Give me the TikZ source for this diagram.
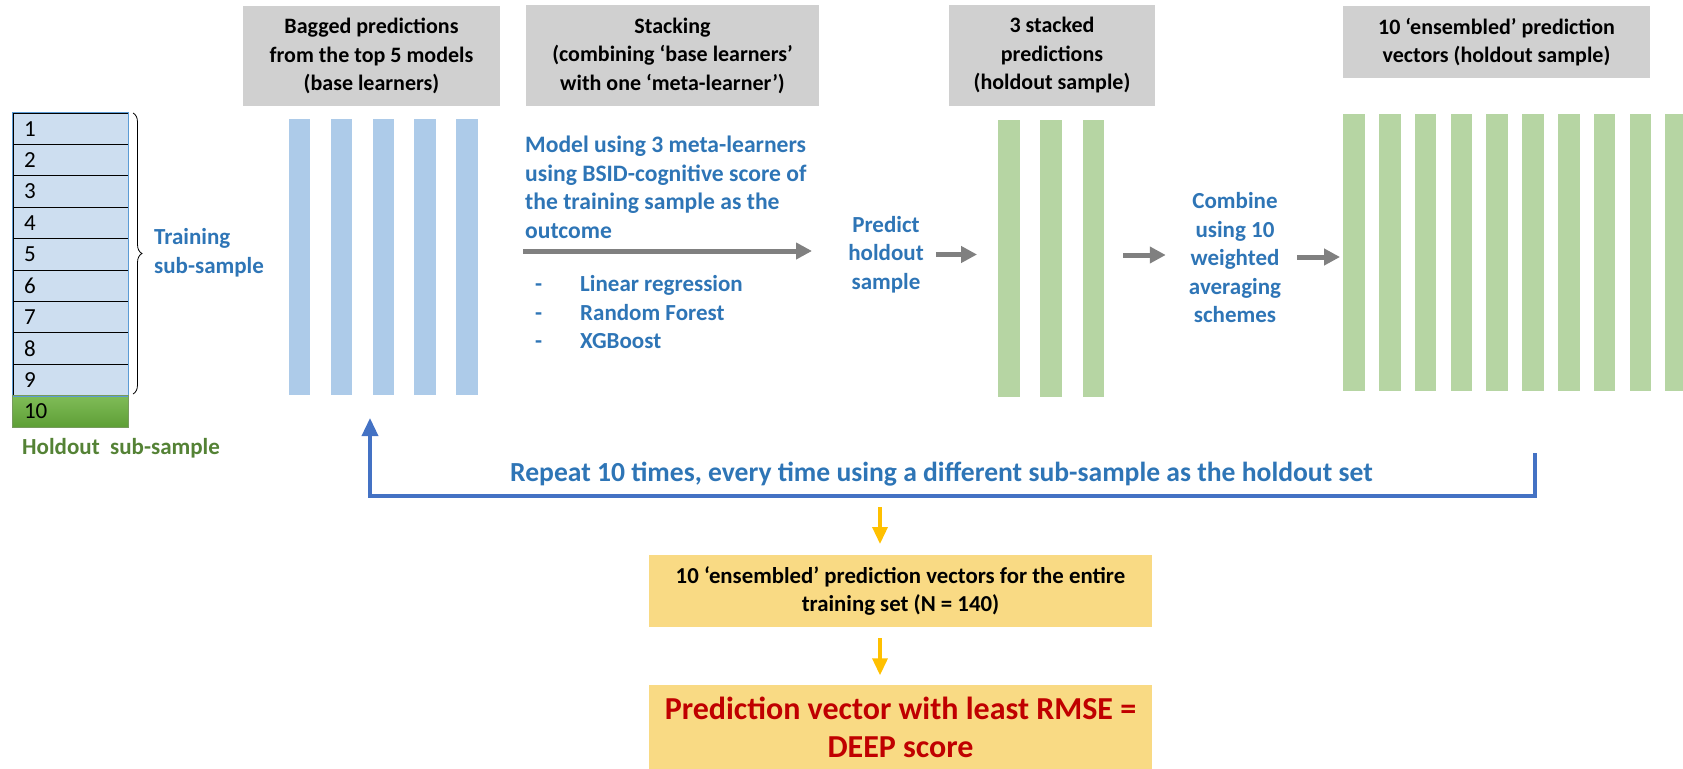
\documentclass[tikz,border=0pt]{standalone}
\usepackage{fontspec}
\setmainfont{Carlito}
\usetikzlibrary{arrows.meta,decorations.pathreplacing}
\definecolor{hdrgray}{HTML}{D0D0D0}
\definecolor{rowblue}{HTML}{CDDEF0}
\definecolor{rowedge}{HTML}{5B9BD5}
\definecolor{barblue}{HTML}{ADCBE9}
\definecolor{bargreen}{HTML}{B6D5A3}
\definecolor{boxyellow}{HTML}{F9DA84}
\definecolor{txtblue}{HTML}{2E75B6}
\definecolor{loopblue}{HTML}{4472C4}
\definecolor{holdgreen}{HTML}{548235}
\definecolor{arrgray}{HTML}{808080}
\definecolor{arryellow}{HTML}{FFC000}
\definecolor{deepred}{HTML}{C00000}
\definecolor{rowgreentop}{HTML}{80BC58}
\definecolor{rowgreenbot}{HTML}{5E9F36}
\begin{document}
\begin{tikzpicture}[x=1pt,y=-1pt,
  hdr/.style={fill=hdrgray, align=center, inner sep=0pt, font=\bfseries\fontsize{22}{28.5}\selectfont},
  bluebar/.style={fill=barblue, inner sep=0pt, minimum width=21.5pt, minimum height=276pt},
  greenbar/.style={fill=bargreen, inner sep=0pt, minimum width=21.5pt, minimum height=277pt},
  rowbox/.style={draw=black, line width=0.8pt, fill=rowblue, minimum width=115pt, minimum height=31.4pt,
    inner xsep=11pt, inner ysep=0pt, text width=93pt, align=left, font=\fontsize{23}{26}\selectfont},
  bluetxt/.style={text=txtblue, inner sep=0pt, font=\bfseries\fontsize{23}{28.5}\selectfont},
  grayarrow/.style={draw=arrgray, line width=5pt, -{Triangle[length=16pt,width=16pt]}},
  yarrow/.style={draw=arryellow, line width=3.5pt, -{Triangle[length=17pt,width=15pt]}},
  loopline/.style={draw=loopblue, line width=3.5pt, -{Triangle[length=18pt,width=16pt]}},
  ybox/.style={fill=boxyellow, inner sep=0pt, align=center, minimum width=503pt}
]
\useasboundingbox (0,0) rectangle (1683,768);

% headers
\node[hdr, minimum width=257pt, minimum height=100pt] (h1) at (371.5,56) {Bagged predictions\\from the top 5 models\\(base learners)};
\node[hdr, minimum width=293pt, minimum height=101pt] (h2) at (672.5,55.5) {Stacking\\(combining ‘base learners’\\with one ‘meta-learner’)};
\node[hdr, minimum width=206pt, minimum height=101pt] (h3) at (1052,55.5) {3 stacked\\predictions\\(holdout sample)};
\node[hdr, minimum width=307pt, minimum height=72pt] (h4) at (1496.5,42) {10 ‘ensembled’ prediction\\vectors (holdout sample)};

% table of sub-samples
\foreach \i in {1,...,9} {
  \node[rowbox] (r\i) at (70.5,{113+(\i-0.5)*31.4}) {\i};
}
\node[rowbox, draw=none, top color=rowgreentop, bottom color=rowgreenbot] (r10) at (70.5,{113+9.5*31.4}) {10};
\draw[rowedge, line width=1.2pt] (r1.north west) rectangle (r9.south east);
\draw[holdgreen!80, line width=1.2pt] (r10.north west) rectangle (r10.south east);

% brace
\draw[decorate, decoration={brace, amplitude=9pt}, line width=0.8pt] (133,113) -- (133,394);
\node[bluetxt, anchor=west, align=left] (train) at (154,252.5) {Training\\sub-sample};
\node[text=holdgreen, inner sep=0pt, font=\bfseries\fontsize{23}{28}\selectfont, anchor=west] (hold) at (22,448) {Holdout\ \ sub-sample};

% blue bars
\foreach \i/\x in {1/299.5,2/341.5,3/383.5,4/425,5/467} {
  \node[bluebar] (b\i) at (\x,257) {};
}

% stacking text
\node[bluetxt, anchor=west, align=left, font=\bfseries\fontsize{23.6}{28.5}\selectfont] (model) at (525,187.5) {Model using 3 meta-learners\\using BSID-cognitive score of\\the training sample as the\\outcome};
\node[bluetxt, anchor=west, align=left] (list) at (535,312.5) {\makebox[45pt][l]{-}Linear regression\\\makebox[45pt][l]{-}Random Forest\\\makebox[45pt][l]{-}XGBoost};
\node[bluetxt, align=center] (predict) at (886,254.5) {Predict\\holdout\\sample};

% green bars (3)
\foreach \i/\x in {1/1009,2/1051,3/1093.5} {
  \node[greenbar] (g\i) at (\x,258.5) {};
}
\node[bluetxt, align=center] (combine) at (1235,258) {Combine\\using 10\\weighted\\averaging\\schemes};

% green bars (10)
\foreach \i in {1,...,10} {
  \node[greenbar] (e\i) at ({1354+(\i-1)*35.8},252.5) {};
}

% gray arrows
\coordinate (a1s) at (523,251);
\draw[grayarrow] (a1s) -- (812,251);
\draw[grayarrow, shorten <=12pt, shorten >=21pt] (predict.east) -- (g1.west |- predict.east);
\draw[grayarrow, shorten <=19pt, shorten >=23pt] (g3.east |- 0,255) -- (combine.west |- 0,255);
\draw[grayarrow, shorten <=16pt, shorten >=3pt] (combine.east |- 0,257) -- (e1.west |- 0,257);

% loop back
\coordinate (loopstart) at (1535,453);
\coordinate (loopend) at (370,418);
\draw[loopline] (loopstart) -- ++(0,43) -| (loopend);
\node[bluetxt, font=\bfseries\fontsize{27.6}{30}\selectfont] (repeat) at (941.5,474) {Repeat 10 times, every time using a different sub-sample as the holdout set};

% yellow boxes
\node[ybox, minimum height=72pt, font=\bfseries\fontsize{22.8}{28.5}\selectfont] (box1) at (900.5,591) {10 ‘ensembled’ prediction vectors for the entire\\training set (N = 140)};
\node[ybox, minimum height=85pt, text=deepred, font=\bfseries\fontsize{32}{38}\selectfont] (box2) at (900.5,727) {Prediction vector with least RMSE =\\DEEP score};

\coordinate (y1s) at (880,507);
\draw[yarrow] (y1s) -- (y1s |- 0,544);
\draw[yarrow, shorten <=11pt, shorten >=9pt] (box1.south -| y1s) -- (box2.north -| y1s);
\end{tikzpicture}
\end{document}
